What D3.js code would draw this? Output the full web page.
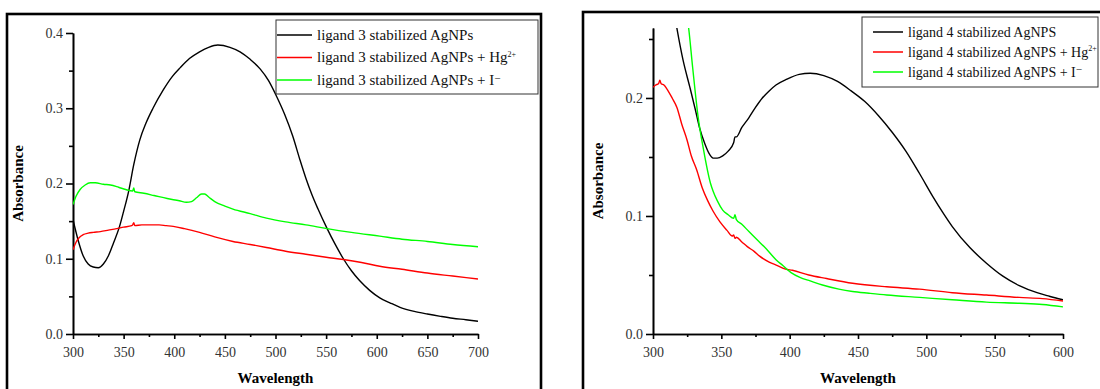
<!DOCTYPE html>
<html>
<head>
<meta charset="utf-8">
<script src="https://cdn.jsdelivr.net/npm/d3@7"></script>
<style>
  html, body { margin: 0; padding: 0; background: #fff; }
  svg { display: block; font-family: 'Liberation Serif', 'DejaVu Serif', serif; }
  .axis path, .axis line { stroke: #000; stroke-width: 1.6; }
  .axis text { font-family: 'Liberation Serif', serif; font-size: 14px; fill: #333; }
</style>
</head>
<body>
<div id="chart"></div>
<script>
// ---- data: [wavelength (nm), absorbance] ----
const L3_LABELS = ['ligand 3 stabilized AgNPs', 'ligand 3 stabilized AgNPs + Hg', 'ligand 3 stabilized AgNPs + I']
const L4_LABELS = ['ligand 4 stabilized AgNPS', 'ligand 4 stabilized AgNPS + Hg', 'ligand 4 stabilized AgNPS + I']
const LABEL_SUPS = ['', '2+', '\u2212']
const SERIES_COLORS = ['#000000', '#ff0000', '#00ff00']

const L3_AGNP = [[300,0.152],[305,0.125],[310,0.104],[315,0.093],[320,0.089],[325,0.088],[330,0.093],[335,0.104],[340,0.121],[346,0.143],[350,0.163],[355,0.190],[360,0.225],[366,0.258],[372,0.280],[379,0.300],[389,0.324],[398,0.342],[406,0.354],[415,0.366],[425,0.375],[434,0.381],[443,0.384],[455,0.381],[465,0.375],[475,0.365],[485,0.352],[493,0.337],[501,0.316],[509,0.292],[517,0.263],[524,0.232],[530,0.207],[536,0.185],[542,0.166],[551,0.140],[559,0.119],[567,0.100],[575,0.084],[583,0.071],[593,0.058],[603,0.048],[613,0.0415],[623,0.0355],[637,0.030],[650,0.0265],[663,0.0235],[675,0.021],[688,0.019],[700,0.017]]
const L3_HG = [[300,0.112],[303,0.122],[306,0.128],[310,0.132],[315,0.134],[320,0.135],[327,0.136],[335,0.138],[343,0.140],[350,0.142],[358,0.144],[359,0.145],[360,0.148],[361,0.144],[368,0.145],[376,0.145],[385,0.145],[392,0.144],[399,0.143],[410,0.140],[425,0.135],[440,0.129],[458,0.123],[475,0.119],[491,0.115],[510,0.110],[530,0.106],[550,0.102],[567,0.099],[585,0.095],[603,0.090],[625,0.086],[650,0.081],[675,0.077],[700,0.073]]
const L3_I = [[300,0.172],[303,0.183],[307,0.192],[312,0.198],[317,0.201],[322,0.201],[330,0.199],[337,0.198],[345,0.195],[352,0.192],[359,0.190],[360,0.194],[361,0.189],[370,0.187],[380,0.184],[393,0.180],[405,0.177],[412,0.175],[417,0.176],[422,0.181],[427,0.186],[430,0.186],[434,0.182],[440,0.176],[450,0.170],[458,0.166],[475,0.160],[491,0.154],[510,0.149],[530,0.145],[551,0.140],[575,0.135],[603,0.130],[625,0.126],[650,0.123],[675,0.119],[700,0.116]]

const L4_AGNP = [[305,0.36],[310,0.31],[314,0.283],[317.5,0.259],[322,0.232],[327,0.209],[331,0.190],[334,0.175],[338,0.161],[341,0.153],[344,0.149],[347,0.149],[351,0.151],[355,0.155],[359,0.162],[360,0.167],[361,0.167],[365,0.175],[370,0.183],[375,0.192],[380,0.200],[385,0.206],[390,0.211],[398,0.216],[407,0.220],[415,0.221],[425,0.219],[435,0.214],[445,0.206],[455,0.197],[465,0.185],[475,0.171],[485,0.155],[495,0.136],[505,0.116],[512,0.103],[519,0.091],[532,0.073],[544,0.060],[556,0.049],[568,0.041],[581,0.035],[590,0.032],[600,0.029]]
const L4_HG = [[300,0.209],[302,0.211],[304,0.212],[305,0.215],[306,0.212],[308,0.211],[310,0.208],[314,0.200],[317.5,0.192],[321,0.178],[325,0.164],[328,0.151],[332,0.139],[336,0.124],[340,0.113],[344,0.104],[349,0.095],[354,0.088],[358,0.083],[359,0.084],[360,0.081],[361,0.082],[365,0.078],[369,0.074],[374,0.070],[378,0.066],[385,0.061],[391,0.058],[397,0.055],[402,0.054],[414,0.050],[427,0.047],[446,0.043],[471,0.040],[495,0.038],[519,0.035],[544,0.033],[568,0.031],[585,0.030],[600,0.028]]
const L4_I = [[320,0.31],[324,0.275],[326,0.260],[329,0.226],[333,0.184],[337,0.156],[342,0.128],[344,0.121],[347,0.113],[351,0.105],[355,0.101],[359,0.098],[360,0.101],[361,0.097],[365,0.093],[370,0.087],[376,0.080],[383,0.072],[390,0.063],[395,0.058],[401,0.052],[407.5,0.048],[415,0.045],[424,0.0415],[436,0.038],[446,0.036],[458,0.0345],[471,0.033],[495,0.031],[519,0.029],[544,0.027],[568,0.026],[585,0.025],[600,0.023]]

const L3_X_TICKS = [300, 350, 400, 450, 500, 550, 600, 650, 700]
const L3_Y_TICKS = [0, 0.1, 0.2, 0.3, 0.4]
const L4_X_TICKS = [300, 350, 400, 450, 500, 550, 600]
const L4_Y_TICKS = [0, 0.1, 0.2]

const SIZE = Object.freeze({ WIDTH: 1100, HEIGHT: 389 })

const PANELS = [
  {
    id: 'l3',
    frame: { x: 7, y: 14, w: 534 },
    xDomain: [300, 700], xRange: [73, 478],
    yDomain: [0, 0.4], yRange: [334, 33],
    xTicks: L3_X_TICKS, yTicks: L3_Y_TICKS,
    xMinor: d3.range(325, 700, 50), yMinor: [0.05, 0.15, 0.25, 0.35],
    series: [L3_AGNP, L3_HG, L3_I], labels: L3_LABELS,
    legend: { x: 276, y: 20, w: 262, h: 74, row0: 35, rowStep: 22.5, lineX0: 277, lineX1: 312, textX: 317, font: 15 },
    yTitleX: 18
  },
  {
    id: 'l4',
    frame: { x: 583, y: 12, w: 540 },
    xDomain: [300, 600], xRange: [653, 1063],
    yDomain: [0, 0.2593], yRange: [334, 28],
    xTicks: L4_X_TICKS, yTicks: L4_Y_TICKS,
    xMinor: d3.range(325, 600, 50), yMinor: [0.05, 0.15, 0.25],
    series: [L4_AGNP, L4_HG, L4_I], labels: L4_LABELS,
    legend: { x: 862, y: 17, w: 236, h: 70, row0: 32, rowStep: 20, lineX0: 873, lineX1: 903, textX: 908, font: 14 },
    yTitleX: 598
  }
]

const svg = d3.select('#chart')
  .append('svg')
  .attr('width', SIZE.WIDTH)
  .attr('height', SIZE.HEIGHT)

const buildPanel = (p) => {
  const g = svg.append('g').attr('id', p.id)

  // outer frame, runs past the bottom of the picture
  g.append('rect')
    .attr('x', p.frame.x)
    .attr('y', p.frame.y)
    .attr('width', p.frame.w)
    .attr('height', 420)
    .attr('fill', 'none')
    .attr('stroke', '#000')
    .attr('stroke-width', 2.6)

  const x = d3.scaleLinear().domain(p.xDomain).range(p.xRange)
  const y = d3.scaleLinear().domain(p.yDomain).range(p.yRange)

  g.append('defs').append('clipPath')
    .attr('id', `clip-${p.id}`)
    .append('rect')
    .attr('x', p.xRange[0])
    .attr('y', p.yRange[1])
    .attr('width', p.xRange[1] - p.xRange[0])
    .attr('height', p.yRange[0] - p.yRange[1])

  const bottom = p.yRange[0], left = p.xRange[0]

  // minor ticks first, majors on top
  g.append('g')
    .attr('class', 'axis')
    .attr('transform', `translate(0,${bottom})`)
    .call(d3.axisBottom(x).tickValues(p.xMinor).tickSize(3).tickSizeOuter(0).tickFormat(''))
  g.append('g')
    .attr('class', 'axis')
    .attr('transform', `translate(0,${bottom})`)
    .call(d3.axisBottom(x).tickValues(p.xTicks).tickSize(5).tickSizeOuter(0).tickPadding(8))

  g.append('g')
    .attr('class', 'axis')
    .attr('transform', `translate(${left},0)`)
    .call(d3.axisLeft(y).tickValues(p.yMinor).tickSize(4).tickSizeOuter(0).tickFormat(''))
  g.append('g')
    .attr('class', 'axis')
    .attr('transform', `translate(${left},0)`)
    .call(d3.axisLeft(y).tickValues(p.yTicks).tickSize(7).tickSizeOuter(0).tickPadding(3).tickFormat(d3.format('.1f')))

  const line = d3.line()
    .x(d => x(d[0]))
    .y(d => y(d[1]))
    .curve(d3.curveMonotoneX)

  g.append('g')
    .attr('clip-path', `url(#clip-${p.id})`)
    .selectAll('path.series')
    .data(p.series)
    .enter()
    .append('path')
    .attr('class', 'series')
    .attr('d', line)
    .attr('fill', 'none')
    .attr('stroke', (_, i) => SERIES_COLORS[i])
    .attr('stroke-width', 1.4)

  // axis titles
  g.append('text')
    .attr('x', (p.xRange[0] + p.xRange[1]) / 2)
    .attr('y', 383)
    .attr('text-anchor', 'middle')
    .style('font-size', '15px')
    .style('font-weight', 'bold')
    .text('Wavelength')

  g.append('text')
    .attr('transform', `translate(${p.yTitleX},${(p.yRange[0] + p.yRange[1]) / 2}) rotate(-90)`)
    .attr('text-anchor', 'middle')
    .attr('dy', '0.35em')
    .style('font-size', '15px')
    .style('font-weight', 'bold')
    .text('Absorbance')

  // legend
  const lg = p.legend
  const legend = g.append('g').attr('class', 'legend')
  legend.append('rect')
    .attr('x', lg.x)
    .attr('y', lg.y)
    .attr('width', lg.w)
    .attr('height', lg.h)
    .attr('fill', '#fff')
    .attr('stroke', '#333')
    .attr('stroke-width', 1)

  const rows = legend.selectAll('g.row')
    .data(p.labels)
    .enter()
    .append('g')
    .attr('class', 'row')
    .attr('transform', (_, i) => `translate(0,${lg.row0 + i * lg.rowStep})`)

  rows.append('line')
    .attr('x1', lg.lineX0)
    .attr('x2', lg.lineX1)
    .attr('stroke', (_, i) => SERIES_COLORS[i])
    .attr('stroke-width', 1.5)

  const label = rows.append('text')
    .attr('x', lg.textX)
    .attr('dy', '0.33em')
    .style('font-size', `${lg.font}px`)
    .style('fill', '#111')
  label.append('tspan').text(d => d)
  label.append('tspan')
    .attr('dy', (_, i) => i === 1 ? '-0.7em' : '-0.3em')
    .style('font-size', (_, i) => i === 1 ? '8px' : '11px')
    .text((_, i) => LABEL_SUPS[i])
}

PANELS.forEach(buildPanel)
</script>
</body>
</html>
